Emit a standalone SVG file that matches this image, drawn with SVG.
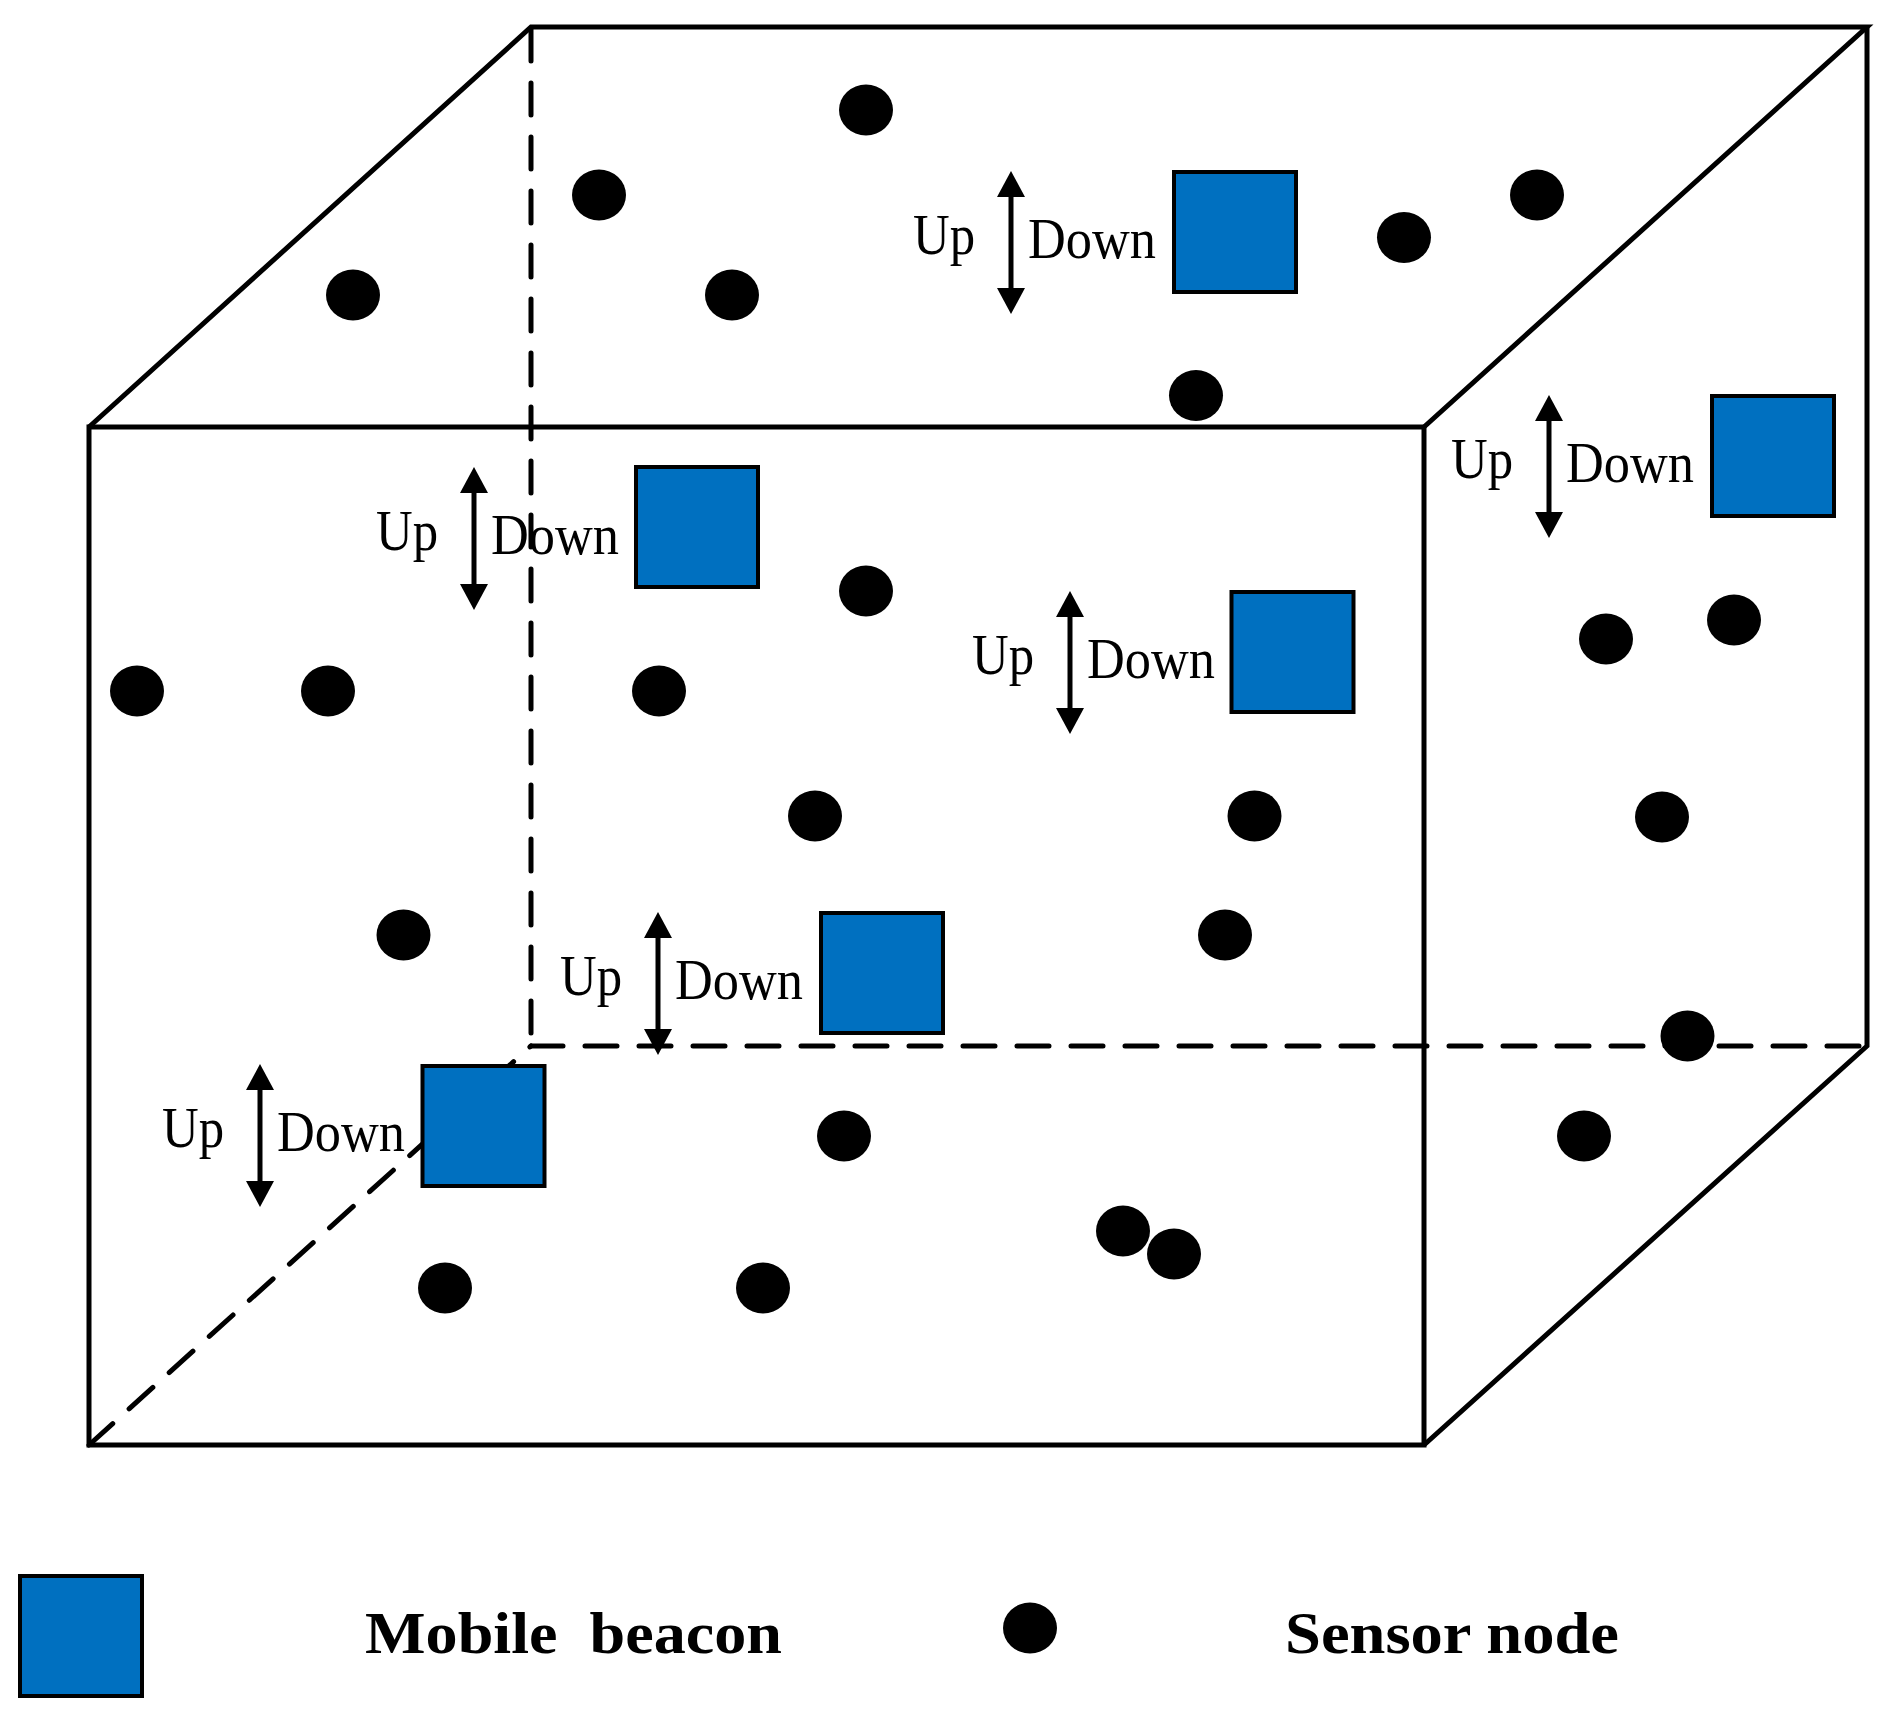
<svg xmlns="http://www.w3.org/2000/svg" width="1901" height="1721" viewBox="0 0 1901 1721">
<style>
.edge{fill:none;stroke:#000;stroke-width:5;stroke-linejoin:miter}
.hidden{fill:none;stroke:#000;stroke-width:5;stroke-dasharray:32 22;stroke-linecap:round}
.dot{fill:#000}
.beacon{fill:#0070C0;stroke:#000;stroke-width:4}
.shaft{stroke:#000;stroke-width:5;fill:none;marker-start:url(#head);marker-end:url(#head)}
.lbl{font-family:"Liberation Serif","Times New Roman",serif;font-size:58px;fill:#000}
.legend{font-family:"Liberation Serif","Times New Roman",serif;font-size:59px;font-weight:bold;fill:#000;white-space:pre}
</style>
<defs>
<marker id="head" markerUnits="userSpaceOnUse" markerWidth="26" markerHeight="28" viewBox="0 0 26 28" refX="6" refY="14" orient="auto-start-reverse">
<path d="M0,0 L26,14 L0,28 Z" fill="#000"/>
</marker>
</defs>
<rect width="1901" height="1721" fill="#fff"/>
<g id="cube">
<path class="edge" d="M89,427 H1424 V1445 H89 Z"/>
<path class="edge" d="M89,427 L531,27 H1867 L1424,427"/>
<path class="edge" d="M1867,27 V1046 L1424,1445"/>
</g>
<g id="hidden-edges">
<path class="hidden" d="M531,29 V1046"/>
<path class="hidden" d="M531,1046 H1867"/>
<path class="hidden" d="M89,1445 L531,1046"/>
</g>
<g id="sensor-nodes">
<ellipse class="dot" cx="866" cy="110" rx="27" ry="25.5"/>
<ellipse class="dot" cx="599" cy="195" rx="27" ry="25.5"/>
<ellipse class="dot" cx="353" cy="295" rx="27" ry="25.5"/>
<ellipse class="dot" cx="732" cy="295" rx="27" ry="25.5"/>
<ellipse class="dot" cx="1537" cy="195" rx="27" ry="25.5"/>
<ellipse class="dot" cx="1404" cy="237.5" rx="27" ry="25.5"/>
<ellipse class="dot" cx="1196" cy="395.5" rx="27" ry="25.5"/>
<ellipse class="dot" cx="866" cy="591" rx="27" ry="25.5"/>
<ellipse class="dot" cx="137" cy="691" rx="27" ry="25.5"/>
<ellipse class="dot" cx="328" cy="691" rx="27" ry="25.5"/>
<ellipse class="dot" cx="659" cy="691" rx="27" ry="25.5"/>
<ellipse class="dot" cx="815" cy="816" rx="27" ry="25.5"/>
<ellipse class="dot" cx="1254.5" cy="816" rx="27" ry="25.5"/>
<ellipse class="dot" cx="1606" cy="639" rx="27" ry="25.5"/>
<ellipse class="dot" cx="1734" cy="620" rx="27" ry="25.5"/>
<ellipse class="dot" cx="1662" cy="817" rx="27" ry="25.5"/>
<ellipse class="dot" cx="403.5" cy="935" rx="27" ry="25.5"/>
<ellipse class="dot" cx="1225" cy="935" rx="27" ry="25.5"/>
<ellipse class="dot" cx="1687.5" cy="1036" rx="27" ry="25.5"/>
<ellipse class="dot" cx="844" cy="1136" rx="27" ry="25.5"/>
<ellipse class="dot" cx="1584" cy="1136" rx="27" ry="25.5"/>
<ellipse class="dot" cx="445" cy="1288" rx="27" ry="25.5"/>
<ellipse class="dot" cx="763" cy="1288" rx="27" ry="25.5"/>
<ellipse class="dot" cx="1123" cy="1231" rx="27" ry="25.5"/>
<ellipse class="dot" cx="1174" cy="1254" rx="27" ry="25.5"/>
</g>
<g id="beacon-top" transform="translate(1011,171)">
<line class="shaft" x1="0" y1="20" x2="0" y2="123"/>
<text class="lbl" x="-98" y="83" textLength="62" lengthAdjust="spacingAndGlyphs">Up</text>
<text class="lbl" x="17" y="87" textLength="128" lengthAdjust="spacingAndGlyphs">Down</text>
<rect class="beacon" x="163" y="1" width="122" height="120"/>
</g>
<g id="beacon-front-upper" transform="translate(474,467)">
<line class="shaft" x1="0" y1="20" x2="0" y2="123"/>
<text class="lbl" x="-98" y="83" textLength="62" lengthAdjust="spacingAndGlyphs">Up</text>
<text class="lbl" x="17" y="87" textLength="128" lengthAdjust="spacingAndGlyphs">Down</text>
<rect class="beacon" x="162" y="0" width="122" height="120"/>
</g>
<g id="beacon-right" transform="translate(1549,395)">
<line class="shaft" x1="0" y1="20" x2="0" y2="123"/>
<text class="lbl" x="-98" y="83" textLength="62" lengthAdjust="spacingAndGlyphs">Up</text>
<text class="lbl" x="17" y="87" textLength="128" lengthAdjust="spacingAndGlyphs">Down</text>
<rect class="beacon" x="163" y="1" width="122" height="120"/>
</g>
<g id="beacon-middle" transform="translate(1070,591)">
<line class="shaft" x1="0" y1="20" x2="0" y2="123"/>
<text class="lbl" x="-98" y="83" textLength="62" lengthAdjust="spacingAndGlyphs">Up</text>
<text class="lbl" x="17" y="87" textLength="128" lengthAdjust="spacingAndGlyphs">Down</text>
<rect class="beacon" x="161.5" y="1" width="122" height="120"/>
</g>
<g id="beacon-lower-mid" transform="translate(658,912)">
<line class="shaft" x1="0" y1="20" x2="0" y2="123"/>
<text class="lbl" x="-98" y="83" textLength="62" lengthAdjust="spacingAndGlyphs">Up</text>
<text class="lbl" x="17" y="87" textLength="128" lengthAdjust="spacingAndGlyphs">Down</text>
<rect class="beacon" x="163" y="1" width="122" height="120"/>
</g>
<g id="beacon-lower-left" transform="translate(260,1064)">
<line class="shaft" x1="0" y1="20" x2="0" y2="123"/>
<text class="lbl" x="-98" y="83" textLength="62" lengthAdjust="spacingAndGlyphs">Up</text>
<text class="lbl" x="17" y="87" textLength="128" lengthAdjust="spacingAndGlyphs">Down</text>
<rect class="beacon" x="162.5" y="2" width="122" height="120"/>
</g>
<g id="legend-beacon">
<rect class="beacon" x="20" y="1576" width="122" height="120"/>
<text class="legend" x="365" y="1653" textLength="417" lengthAdjust="spacingAndGlyphs" xml:space="preserve">Mobile  beacon</text>
</g>
<g id="legend-sensor">
<ellipse class="dot" cx="1030" cy="1628" rx="27" ry="25.5"/>
<text class="legend" x="1285" y="1653" textLength="334" lengthAdjust="spacingAndGlyphs">Sensor node</text>
</g>
</svg>
